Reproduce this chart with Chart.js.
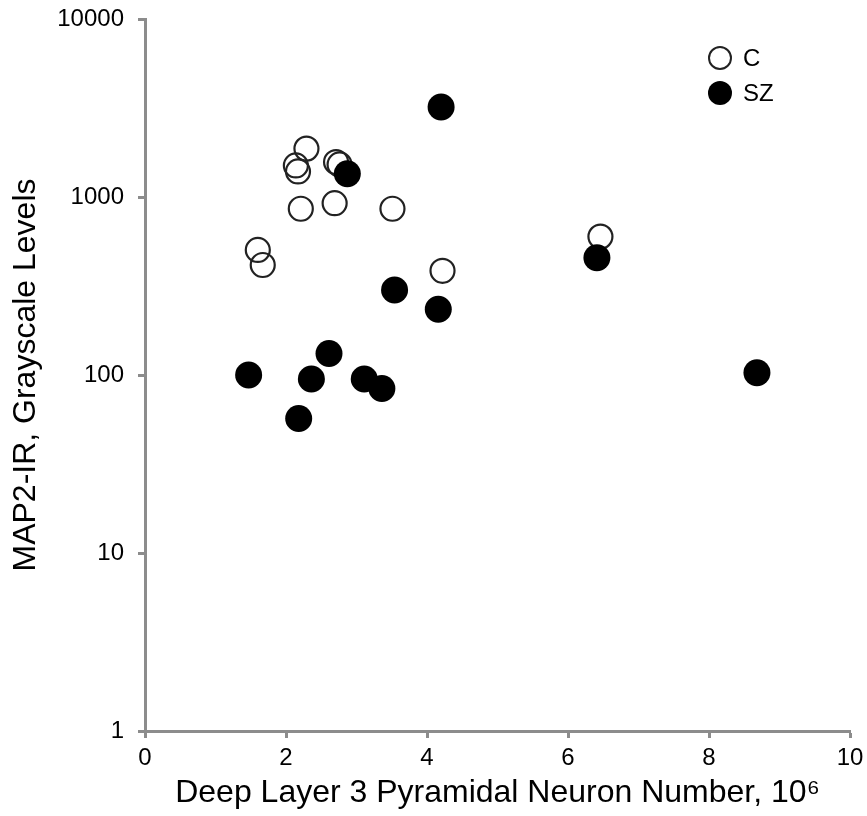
<!DOCTYPE html>
<html>
<head>
<meta charset="utf-8">
<script src="https://cdn.jsdelivr.net/npm/chart.js@4.4.1/dist/chart.umd.min.js"></script>
<style>
  html, body { margin: 0; padding: 0; background: #fff; }
  #wrap { position: relative; width: 867px; height: 816px; }
  #legend { position: absolute; left: 708px; top: 40px; font-family: "Liberation Sans", Arial, sans-serif; font-size: 24px; color: #000; }
  .item { height: 35px; display: flex; align-items: center; }
  .dot { width: 24px; height: 24px; border-radius: 50%; box-sizing: border-box; margin-right: 11px; }
  .open { border: 2.2px solid #222; }
  .full { background: #000; }
</style>
</head>
<body>
<div id="wrap">
  <canvas id="myChart" width="867" height="816"></canvas>
  <div id="legend">
    <div class="item"><span class="dot open"></span>C</div>
    <div class="item"><span class="dot full"></span>SZ</div>
  </div>
</div>
<script>
// controls (C)
const cX = [2.29, 2.14, 2.17, 2.71, 2.76, 2.21, 2.69, 3.51, 1.60, 1.67, 4.22, 6.46];
const cY = [1870, 1504, 1392, 1571, 1524, 859, 923, 859, 504, 415, 385, 599];
// schizophrenia (SZ)
const szX = [4.20, 2.87, 3.54, 4.16, 6.41, 1.47, 2.61, 2.36, 3.11, 3.36, 2.18, 8.68];
const szY = [3206, 1352, 300, 234, 456, 100, 132, 95, 95, 84, 57, 103];

const xTicks = [0, 2, 4, 6, 8, 10];
const yTicks = [1, 10, 100, 1000, 10000];

function toPoints(xs, ys) {
    return xs.map((x, i) => ({ x: x, y: ys[i] }));
}

const axisColor = '#8c8c8c';
const font = { family: '"Liberation Sans", Arial, sans-serif', size: 24 };
const titleFont = { family: '"Liberation Sans", Arial, sans-serif', size: 32 };
const gridOpts = { display: true, drawOnChartArea: false, drawTicks: true, tickLength: 7, tickColor: axisColor, tickWidth: 3 };

const ctx = document.getElementById('myChart').getContext('2d');
const myChart = new Chart(ctx, {
    type: 'scatter',
    data: {
        datasets: [{
            label: 'C',
            data: toPoints(cX, cY),
            pointRadius: 12,
            pointHoverRadius: 12,
            pointBorderWidth: 2.2,
            borderColor: '#222',
            backgroundColor: 'rgba(0,0,0,0)',
            order: 2
        }, {
            label: 'SZ',
            data: toPoints(szX, szY),
            pointRadius: 13.5,
            pointHoverRadius: 13.5,
            pointBorderWidth: 0,
            borderColor: '#000',
            backgroundColor: '#000',
            order: 1
        }]
    },
    options: {
        responsive: false,
        animation: false,
        layout: { padding: { top: 19, right: 17, left: 0, bottom: 0 } },
        plugins: {
            legend: { display: false },
            tooltip: { enabled: false }
        },
        scales: {
            x: {
                type: 'linear',
                min: 0,
                max: 10,
                afterBuildTicks: s => { s.ticks = xTicks.map(v => ({ value: v })); },
                afterFit: s => { s.height = 85; s.paddingLeft = 0; s.paddingRight = 0; },
                grid: gridOpts,
                border: { color: axisColor, width: 3 },
                ticks: { color: '#000', font: font, padding: 6, maxRotation: 0 },
                title: { display: true, text: 'Deep Layer 3 Pyramidal Neuron Number, 10⁶', color: '#000', font: titleFont, padding: { top: 4, bottom: 4 } }
            },
            y: {
                type: 'logarithmic',
                min: 1,
                max: 10000,
                afterBuildTicks: s => { s.ticks = yTicks.map(v => ({ value: v })); },
                afterFit: s => { s.width = 145; s.paddingTop = 0; s.paddingBottom = 0; },
                grid: gridOpts,
                border: { color: axisColor, width: 3 },
                ticks: { color: '#000', font: font, padding: 14, callback: v => String(v) },
                title: { display: true, text: 'MAP2-IR, Grayscale Levels', color: '#000', font: titleFont, padding: { top: 7, bottom: 4 } }
            }
        }
    }
});
</script>
</body>
</html>
